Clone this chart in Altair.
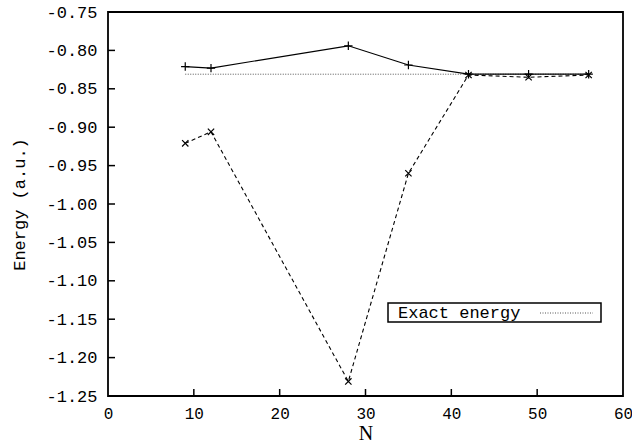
import altair as alt
import pandas as pd

n_values = [9, 12, 28, 35, 42, 49, 56]
solid_energy = [-0.821, -0.823, -0.794, -0.819, -0.831, -0.831, -0.831]
dashed_energy = [-0.921, -0.906, -1.231, -0.960, -0.832, -0.835, -0.832]
exact_n = [9, 56]
exact_energy = [-0.831, -0.831]
x_ticks = [10, 20, 30, 40, 50]
y_ticks = [-1.20, -1.15, -1.10, -1.05, -1.00, -0.95, -0.90, -0.85, -0.80]
x_labels = [0, 10, 20, 30, 40, 50, 60]
y_labels = [-1.25, -1.20, -1.15, -1.10, -1.05, -1.00, -0.95, -0.90, -0.85, -0.80, -0.75]
legend_label = "Exact energy"

mono = "Liberation Mono"
serif = "Liberation Serif"

solid_df = pd.DataFrame({"N": n_values, "E": solid_energy})
dashed_df = pd.DataFrame({"N": n_values, "E": dashed_energy})
exact_df = pd.DataFrame({"N": exact_n, "E": exact_energy})
xt_df = pd.DataFrame({"N": x_ticks})
yt_df = pd.DataFrame({"E": y_ticks})

xscale = alt.Scale(domain=[0, 60], nice=False, zero=False)
yscale = alt.Scale(domain=[-1.25, -0.75], nice=False, zero=False)

x_axis = alt.Axis(values=x_labels, tickSize=0, domain=False, grid=False,
                  labelOverlap=False, labelFlush=False,
                  labelFont=mono, labelFontSize=16, labelColor="black", labelPadding=9,
                  title="N", titleFont=serif, titleFontSize=20, titleFontWeight="normal",
                  titleColor="black", titlePadding=2)
y_axis = alt.Axis(values=y_labels,
                  tickSize=0, domain=False, grid=False, labelOverlap=False, labelFlush=False,
                  labelExpr="replace(format(datum.value, '.2f'), '\u2212', '-')",
                  labelFont=mono, labelFontSize=17, labelColor="black", labelPadding=11,
                  title="Energy (a.u.)", titleFont=mono, titleFontSize=17, titleFontWeight="normal",
                  titleColor="black", titlePadding=17)

ax = alt.X("N:Q", scale=xscale, axis=x_axis)
ay = alt.Y("E:Q", scale=yscale, axis=y_axis)

exact_line = alt.Chart(exact_df).mark_line(color="#555555", strokeWidth=1, strokeDash=[1, 1.5]).encode(x=ax, y=ay)

solid_line = alt.Chart(solid_df).mark_line(color="black", strokeWidth=1.2).encode(x=ax, y=ay)
solid_pts = alt.Chart(solid_df).mark_point(shape="M-1,0L1,0M0,-1L0,1", size=70, color="black",
                                           strokeWidth=1.2, filled=False, opacity=1).encode(x=ax, y=ay)

dashed_line = alt.Chart(dashed_df).mark_line(color="black", strokeWidth=1.1, strokeDash=[4, 3]).encode(x=ax, y=ay)
dashed_pts = alt.Chart(dashed_df).mark_point(shape="M-1,-1L1,1M-1,1L1,-1", size=40, color="black",
                                             strokeWidth=1.2, filled=False, opacity=1).encode(x=ax, y=ay)

x_tick_marks = alt.Chart(xt_df).mark_rule(color="black", strokeWidth=1.5).encode(
    x=ax, y=alt.value(384), y2=alt.value(377))
y_tick_marks = alt.Chart(yt_df).mark_rule(color="black", strokeWidth=1.5).encode(
    y=ay, x=alt.value(0), x2=alt.value(7))

legend_df = pd.DataFrame({"label": [legend_label]})
legend_box = alt.Chart(legend_df).mark_rect(fill="white", stroke="black", strokeWidth=1.5).encode(
    x=alt.value(280), x2=alt.value(493), y=alt.value(291), y2=alt.value(310))
legend_text = alt.Chart(legend_df).mark_text(font=mono, fontSize=17, align="left", baseline="middle",
                                             color="black").encode(
    x=alt.value(290), y=alt.value(301), text="label:N")
legend_sample = alt.Chart(legend_df).mark_rule(color="#555555", strokeWidth=1, strokeDash=[1, 1.5]).encode(
    x=alt.value(432), x2=alt.value(485), y=alt.value(301))

chart = alt.layer(
    exact_line, solid_line, solid_pts, dashed_line, dashed_pts,
    x_tick_marks, y_tick_marks, legend_box, legend_text, legend_sample
).properties(
    width=515, height=384,
    autosize=alt.AutoSizeParams(type="none"),
    padding={"left": 108, "top": 12, "right": 9, "bottom": 51},
    background="white",
).configure_view(stroke="black", strokeWidth=1.8).configure_axis(labelOverlap=False)

chart.save("out.html", embed_options={"renderer": "svg", "actions": False})
